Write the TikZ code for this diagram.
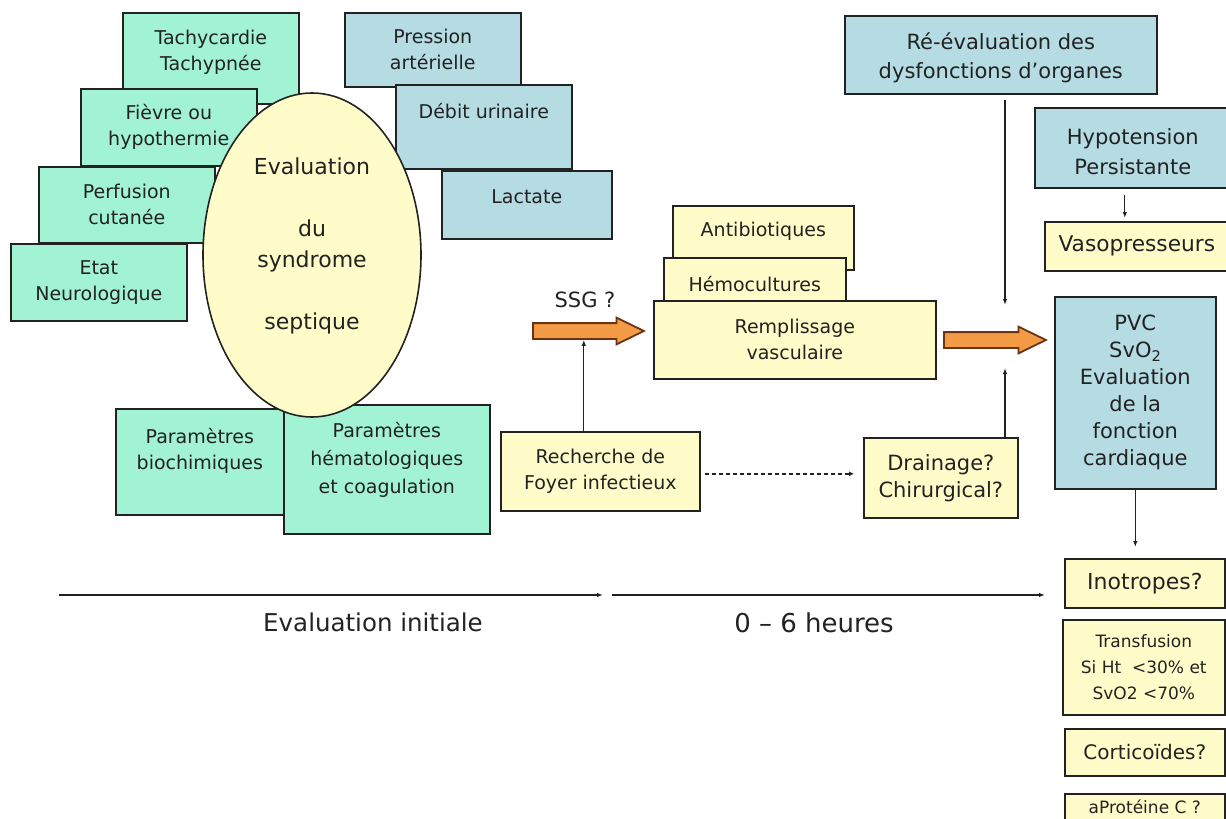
\documentclass[tikz,border=0pt]{standalone}
\usepackage{fontspec}
\setmainfont{DejaVu Sans}
\usepackage{tikz}
\usetikzlibrary{arrows.meta, positioning, calc, shapes.geometric, shapes.arrows}
\definecolor{mint}{HTML}{A2F3D3}
\definecolor{steel}{HTML}{B6DCE3}
\definecolor{cream}{HTML}{FFFCC9}
\definecolor{amber}{HTML}{F39A45}
\definecolor{rust}{HTML}{6B3312}
\definecolor{ink}{HTML}{222222}

\begin{document}
\begin{tikzpicture}[
  x=1pt, y=-1pt,
  cell/.style={draw=ink, line width=1.6pt, text=ink, align=center, inner sep=0pt,
               anchor=north west, font=\fontsize{19}{26}\selectfont},
  greencell/.style={cell, fill=mint},
  bluecell/.style={cell, fill=steel},
  yellowcell/.style={cell, fill=cream},
  txt/.style={text=ink, align=center, inner sep=0pt, font=\fontsize{19}{26}\selectfont},
  arr/.style={-{Latex[length=6pt, width=4.5pt]}, line width=1.3pt, draw=ink},
  fatarr/.style={single arrow, draw=rust, line width=1.8pt, fill=amber, minimum width=25pt,
                 single arrow head extend=5.5pt, single arrow tip angle=52,
                 inner xsep=0pt, inner ysep=7pt, anchor=tail}
]
  \useasboundingbox (0,0) rectangle (1226,819);
  \clip (0,0) rectangle (1226,819);

  % Clinical signs
  \node[greencell, minimum width=176pt, minimum height=91pt] (tachy) at (122,12) {};
  \node[txt] (tachy-t) at ([yshift=6pt]tachy.center) {Tachycardie\\Tachypnée};
  \node[greencell, minimum width=176pt, minimum height=77pt] (fievre) at (80,88) {Fièvre ou\\hypothermie};
  \node[greencell, minimum width=176pt, minimum height=76pt] (perf) at (38,166) {Perfusion\\cutanée};
  \node[greencell, minimum width=176pt, minimum height=77pt] (etat) at (10,243) {Etat\\Neurologique};

  % Haemodynamics
  \node[bluecell, minimum width=176pt, minimum height=74pt] (press) at (344,12) {Pression\\artérielle};
  \node[bluecell, minimum width=176pt, minimum height=84pt] (debit) at (395,84) {};
  \node[txt] (debit-t) at ([yshift=16pt]debit.center) {Débit urinaire};
  \node[bluecell, minimum width=170pt, minimum height=68pt] (lact) at (441,170) {};
  \node[txt] (lact-t) at ([yshift=8pt]lact.center) {Lactate};

  % Biology
  \node[greencell, minimum width=168pt, minimum height=106pt] (bio) at (115,408) {};
  \node[txt] (bio-t) at ([yshift=11pt]bio.center) {Paramètres\\biochimiques};
  \node[greencell, minimum width=206pt, minimum height=129pt] (hemato) at (283,404) {};
  \node[txt, font=\fontsize{19}{28}\selectfont] (hemato-t) at ([yshift=9pt]hemato.center)
    {Paramètres\\hématologiques\\et coagulation};

  % Central ellipse
  \node[ellipse, draw=ink, line width=1.6pt, fill=cream, minimum width=218pt, minimum height=324pt]
    (eval) at (312,255) {};
  \node[txt, font=\fontsize{22}{31}\selectfont] (eval-t) at ([yshift=9pt]eval.center)
    {Evaluation\\[31pt]du\\syndrome\\[31pt]septique};

  % Source control
  \node[yellowcell, minimum width=199pt, minimum height=79pt] (rech) at (500,431) {Recherche de\\Foyer infectieux};
  \node[yellowcell, minimum width=154pt, minimum height=80pt, font=\fontsize{21}{27}\selectfont]
    (drain) at (863,437) {Drainage?\\Chirurgical?};

  % First hours
  \node[yellowcell, minimum width=181pt, minimum height=64pt] (antib) at (672,205) {};
  \node[txt] (antib-t) at ([yshift=7pt]antib.center) {Antibiotiques};
  \node[yellowcell, minimum width=182pt, minimum height=53pt] (hemoc) at (663,257) {Hémocultures};
  \node[yellowcell, minimum width=282pt, minimum height=78pt] (rempl) at (653,300) {Remplissage\\vasculaire};

  % Right column
  \node[bluecell, minimum width=312pt, minimum height=78pt] (reeval) at (844,15) {};
  \node[txt, font=\fontsize{21}{29}\selectfont] (reeval-t) at ([yshift=-3pt]reeval.center)
    {Ré-évaluation des\\dysfonctions d’organes};
  \node[bluecell, minimum width=196pt, minimum height=80pt] (hypo) at (1034,107) {};
  \node[txt, font=\fontsize{21}{30}\selectfont] (hypo-t) at ([yshift=-4pt]hypo.center)
    {Hypotension\\Persistante};
  \node[yellowcell, minimum width=184pt, minimum height=49pt, font=\fontsize{21.7}{26}\selectfont]
    (vaso) at (1044,221) {Vasopresseurs};
  \node[bluecell, minimum width=161pt, minimum height=192pt, font=\fontsize{21}{27}\selectfont]
    (pvc) at (1054,296) {PVC\\SvO\textsubscript{2}\\Evaluation\\de la\\fonction\\cardiaque};
  \node[yellowcell, minimum width=160pt, minimum height=49pt, font=\fontsize{22}{26}\selectfont]
    (inot) at (1064,558) {Inotropes?};
  \node[yellowcell, minimum width=162pt, minimum height=95pt, font=\fontsize{17}{26}\selectfont]
    (transf) at (1062,619) {Transfusion\\Si Ht~ <30\% et\\SvO2 <70\%};
  \node[yellowcell, minimum width=160pt, minimum height=47pt, font=\fontsize{20}{26}\selectfont]
    (cortic) at (1064,728) {Corticoïdes?};
  \node[yellowcell, minimum width=160pt, minimum height=40pt] (aprot) at (1064,793) {};
  \node[txt, font=\fontsize{17}{20}\selectfont] (aprot-t) at ([yshift=7pt]aprot.center) {aProtéine C ?};

  % Orange arrows
  \node[fatarr, minimum height=111pt] (ssg) at (532,331) {};
  \node[txt, font=\fontsize{21}{26}\selectfont] (ssg-t) at (585,300) {SSG ?};
  \node[fatarr, minimum height=102pt] (go) at (943,340) {};

  % Connectors
  \coordinate (re-end) at (1005,305);
  \coordinate (dr-end) at (1005,368);
  \draw[arr, shorten <=5pt] (reeval.south -| re-end) -- (re-end);
  \draw[arr] (drain.north -| dr-end) -- (dr-end);
  \draw[arr, shorten <=6pt, shorten >=3pt] ([xshift=-8pt]hypo.south) -- ([xshift=-8pt]hypo.south |- vaso.north);
  \draw[arr, shorten >=11pt] (pvc.south) -- (pvc.south |- inot.north);
  \draw[arr] ([xshift=-16.5pt]rech.north) -- ([xshift=-16.5pt]rech.north |- ssg.south);
  \draw[ink, line width=2.4pt, dash pattern=on 4pt off 3pt, -{Latex[length=5pt, width=5pt]},
        shorten <=4pt, shorten >=9pt]
    ([yshift=-2.5pt]rech.east) -- ([yshift=-2.5pt]rech.east -| drain.west);

  % Timeline
  \coordinate (t0) at (59,595);
  \coordinate (t1) at (603,595);
  \coordinate (t2) at (612,595);
  \coordinate (t3) at (1045,595);
  \draw[arr] (t0) -- (t1);
  \draw[arr] (t2) -- (t3);
  \node[txt, font=\fontsize{24.5}{28}\selectfont] (phase1) at (373,622) {Evaluation initiale};
  \node[txt, font=\fontsize{26}{28}\selectfont] (phase2) at (814,623) {0 – 6 heures};
\end{tikzpicture}
\end{document}
